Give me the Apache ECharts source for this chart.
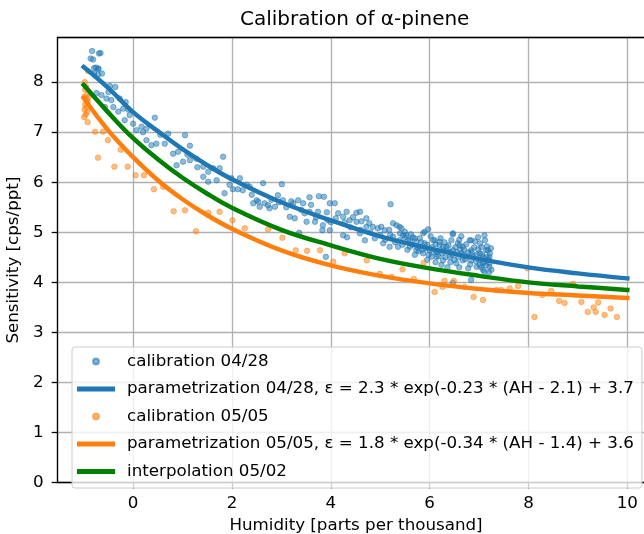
<!DOCTYPE html>
<html>
<head>
<meta charset="utf-8">
<title>Calibration of α-pinene</title>
<script src="https://cdn.jsdelivr.net/npm/echarts@6.0.0/dist/echarts.min.js"></script>
<style>
    html, body { margin: 0; padding: 0; background: #fff; }
    #main { width: 644px; height: 534px; }
</style>
</head>
<body>
<div id="main"></div>
<script>
// calibration points 04/28 [humidity, sensitivity]
var calib0428 = [
    [-0.83, 8.62], [-0.66, 8.58], [-0.69, 8.57], [-0.86, 8.47], [-0.81, 8.45], [-0.75, 8.29], [-0.79, 8.28],
    [-0.70, 8.27], [-0.71, 8.26], [-0.79, 8.17], [-0.71, 8.15], [-0.63, 8.17], [-0.47, 7.92], [-0.36, 7.90],
    [-0.74, 7.78], [-0.64, 7.74], [-0.54, 7.67], [-0.44, 7.64], [-0.27, 7.67], [-0.15, 7.60], [-0.57, 7.50],
    [-0.40, 7.50], [-0.30, 7.41], [-0.20, 7.47], [-0.07, 7.34], [-0.17, 7.24], [0.00, 7.17], [0.07, 7.04],
    [0.17, 7.11], [0.27, 7.07], [0.44, 7.29], [0.27, 6.84], [0.37, 6.74], [0.47, 6.77], [0.64, 6.77],
    [0.71, 6.97], [1.05, 6.94], [1.15, 6.73], [0.81, 6.57], [0.91, 6.61], [0.88, 6.34], [1.01, 6.41],
    [1.15, 6.44], [1.28, 6.47], [1.42, 6.31], [1.52, 6.21], [1.62, 6.28], [1.75, 6.28], [1.82, 6.51],
    [1.42, 6.11], [1.52, 6.01], [1.69, 6.04], [1.85, 5.78], [1.99, 6.08], [2.02, 5.86], [2.16, 6.08],
    [2.12, 5.86], [2.22, 5.84], [2.36, 5.91], [2.43, 5.58], [2.53, 5.61], [2.56, 5.51], [2.63, 5.98],
    [2.66, 5.58], [2.73, 5.54], [3.01, 5.96], [2.93, 5.74], [3.03, 5.64], [2.50, 5.64], [2.76, 5.48],
    [2.87, 5.51], [3.24, 5.58], [3.34, 5.64], [3.44, 5.58], [3.57, 5.70], [3.76, 5.72], [3.86, 5.71],
    [3.98, 5.58], [4.08, 5.58], [3.17, 5.31], [3.27, 5.28], [3.47, 5.38], [3.57, 5.41], [3.74, 5.41],
    [3.51, 5.21], [3.68, 5.21], [3.84, 5.14], [3.94, 5.24], [3.83, 5.04], [3.98, 5.04], [4.15, 5.38],
    [4.25, 5.31], [4.32, 5.41], [4.52, 5.39], [4.59, 5.41], [4.38, 5.24], [4.52, 5.21], [4.72, 5.28],
    [4.85, 5.11], [4.72, 5.11], [5.02, 5.11], [5.09, 5.04], [4.25, 4.94], [4.33, 4.90], [4.59, 4.98],
    [4.69, 4.84], [4.89, 4.88], [5.06, 4.78], [5.21, 5.56], [5.26, 5.18], [5.33, 5.14], [5.43, 5.08],
    [5.50, 5.01], [5.53, 4.94], [5.26, 4.91], [5.39, 4.84], [5.19, 4.71], [5.36, 4.71], [5.56, 4.84],
    [5.66, 4.90], [5.73, 4.81], [5.80, 4.88], [5.87, 4.98], [5.97, 5.06], [5.90, 4.78], [5.60, 4.71],
    [5.73, 4.64], [5.87, 4.58], [6.00, 4.64], [6.10, 4.84], [6.20, 4.74], [6.34, 4.71], [6.47, 4.98],
    [6.47, 4.64], [6.57, 4.78], [6.67, 4.71], [6.81, 4.84], [6.84, 4.64], [6.98, 4.90], [7.11, 4.94],
    [7.01, 4.58], [7.15, 4.64], [7.21, 4.51], [7.08, 4.38], [6.95, 4.31], [6.67, 4.44], [6.54, 4.38],
    [6.41, 4.51], [6.27, 4.44], [6.14, 4.51], [6.04, 4.51], [6.24, 4.35], [6.78, 4.28], [7.08, 4.25],
    [7.21, 4.31], [6.84, 4.05], [3.90, 4.51], [3.36, 4.99], [5.39, 5.11], [5.46, 4.94], [5.60, 4.84],
    [5.90, 5.01], [6.07, 4.84], [6.20, 4.81], [6.47, 4.96], [6.61, 4.74], [6.84, 4.84], [7.18, 4.64],
    [7.08, 4.51], [7.21, 4.38], [7.01, 4.35], [6.84, 4.44], [6.67, 4.54], [6.41, 4.61], [6.27, 4.71],
    [6.14, 4.61], [6.47, 3.99], [7.11, 4.21], [7.25, 4.25], [5.00, 4.95], [5.10, 4.85], [5.20, 4.95],
    [5.30, 4.80], [5.45, 4.75], [5.55, 4.65], [5.65, 4.75], [5.75, 4.70], [5.85, 4.65], [5.95, 4.75],
    [6.05, 4.70], [6.15, 4.62], [6.25, 4.58], [6.35, 4.62], [6.45, 4.55], [6.55, 4.60], [6.65, 4.58],
    [6.75, 4.52], [6.85, 4.60], [6.95, 4.55], [7.05, 4.70], [7.15, 4.50], [6.30, 4.80], [6.60, 4.85],
    [6.90, 4.70], [7.10, 4.40], [6.50, 4.45], [6.70, 4.65], [7.00, 4.45], [5.50, 4.90], [4.80, 5.00],
    [4.60, 5.05], [4.40, 5.10], [4.00, 5.20], [3.70, 5.30], [3.40, 5.45], [3.10, 5.50], [2.80, 5.65],
    [5.62, 4.96], [5.70, 4.55], [5.78, 4.62], [5.83, 4.80], [5.92, 4.68], [5.98, 4.55], [6.02, 4.92],
    [6.08, 4.60], [6.12, 4.76], [6.18, 4.52], [6.22, 4.88], [6.28, 4.64], [6.32, 4.50], [6.38, 4.74],
    [6.42, 4.40], [6.44, 4.84], [6.52, 4.70], [6.58, 4.50], [6.62, 4.66], [6.64, 4.92], [6.72, 4.46],
    [6.74, 4.76], [6.78, 4.60], [6.82, 4.36], [6.88, 4.52], [6.92, 4.82], [6.94, 4.42], [6.98, 4.66],
    [7.02, 4.78], [7.04, 4.30], [7.06, 4.56], [7.12, 4.84], [7.14, 4.34], [7.16, 4.72], [7.19, 4.46],
    [7.22, 4.58], [7.24, 4.68], [7.20, 4.20], [6.60, 4.30], [6.36, 4.30], [6.12, 4.40], [5.95, 4.45],
    [5.70, 4.88], [5.40, 4.98], [5.18, 5.05], [4.95, 5.08], [4.78, 5.18], [4.62, 5.22], [4.45, 5.30],
    [4.28, 5.20], [4.10, 5.28], [3.92, 5.40], [3.60, 5.55], [3.20, 5.62], [2.95, 5.60], [2.40, 5.75],
    [2.30, 5.95], [1.95, 5.95], [1.30, 6.30], [1.10, 6.55], [0.55, 6.95], [0.20, 7.00], [-0.10, 7.45],
    [-0.50, 7.80]
];

// calibration points 05/05
var calib0505 = [
    [-0.91, 8.22], [-0.98, 8.00], [-0.95, 7.90], [-0.97, 7.85], [-0.93, 7.75], [-0.99, 7.70], [-0.95, 7.65],
    [-0.92, 7.60], [-0.97, 7.55], [-0.94, 7.50], [-0.98, 7.45], [-0.93, 7.40], [-0.96, 7.35], [-0.99, 7.30],
    [-0.92, 7.20], [-0.90, 7.70], [-0.77, 7.01], [-0.61, 7.01], [-0.51, 6.84], [-0.71, 6.49], [-0.25, 6.65],
    [-0.38, 6.31], [-0.11, 6.31], [0.05, 6.14], [0.22, 6.14], [0.42, 5.86], [0.61, 5.91], [0.82, 5.42],
    [1.05, 5.44], [1.27, 5.02], [1.52, 5.39], [1.75, 5.41], [2.01, 5.24], [2.26, 5.08], [2.73, 5.06],
    [3.02, 4.89], [3.29, 4.64], [3.52, 4.63], [3.78, 4.64], [4.05, 4.41], [4.28, 4.58], [4.73, 4.44],
    [4.99, 4.17], [5.23, 4.11], [5.45, 4.26], [5.68, 4.07], [5.88, 4.39], [6.10, 3.81], [6.26, 3.91],
    [6.49, 4.03], [6.30, 4.03], [6.71, 3.91], [6.89, 3.71], [7.08, 3.65], [7.35, 3.85], [7.45, 3.85],
    [7.62, 3.88], [7.79, 3.93], [7.98, 4.28], [8.12, 3.31], [8.28, 3.75], [8.46, 3.83], [8.62, 3.63],
    [8.73, 3.59], [8.90, 3.97], [9.07, 3.61], [9.20, 3.41], [9.32, 3.50], [9.36, 3.41], [9.41, 3.60],
    [9.54, 3.35], [9.66, 3.48], [9.79, 3.31]
];

// fitted curves at these humidities
var curveX = [-1, -0.5, 0, 0.5, 1, 1.5, 2, 3, 4, 5, 6, 7, 8, 9, 10];
var fit0428 = [8.30, 7.88, 7.40, 7.02, 6.66, 6.34, 6.06, 5.60, 5.24, 4.92, 4.68, 4.47, 4.30, 4.18, 4.08];
var fit0505 = [7.68, 7.03, 6.50, 6.04, 5.66, 5.34, 5.07, 4.64, 4.34, 4.13, 3.98, 3.87, 3.79, 3.74, 3.69];
var interp0502 = [7.94, 7.39, 6.88, 6.46, 6.09, 5.77, 5.49, 5.05, 4.74, 4.47, 4.28, 4.13, 4.00, 3.92, 3.85];

var names = [
    'calibration 04/28',
    'parametrization 04/28, ε = 2.3 * exp(-0.23 * (AH - 2.1) + 3.7',
    'calibration 05/05',
    'parametrization 05/05, ε = 1.8 * exp(-0.34 * (AH - 1.4) + 3.6',
    'interpolation 05/02'
];

var BLUE = '#1f77b4', ORANGE = '#ff7f0e', GREEN = '#008000';
var FONT = 'DejaVu Sans';

function pairs(xs, ys) {
    var out = [];
    for (var i = 0; i < xs.length; i++) {
        out.push([xs[i], ys[i]]);
    }
    return out;
}

// legend handles: invisible corner points keep the box 45x14
var dotIcon = 'path://M0,0M45,14M16,7A3,3,0,1,1,22,7A3,3,0,1,1,16,7Z';
var lineIcon = 'path://M0,0M45,14M0,4.6L38,4.6L38,9.4L0,9.4Z';

function scatterSeries(name, data, color) {
    return {
        name: name,
        type: 'scatter',
        data: data,
        symbolSize: 5.5,
        itemStyle: { color: color, opacity: 0.5, borderColor: color, borderWidth: 1 }
    };
}

function curveSeries(name, ys, color) {
    return {
        name: name,
        type: 'line',
        data: pairs(curveX, ys),
        smooth: 0.4,
        showSymbol: false,
        symbol: 'none',
        itemStyle: { color: color },
        lineStyle: { color: color, width: 4.5, cap: 'square' }
    };
}

var tickStyle = { show: true, length: 5.8, lineStyle: { color: '#000', width: 1.3 } };
var gridLine = { show: true, lineStyle: { color: '#b0b0b0', width: 1.3 } };

var myChart = echarts.init(document.getElementById('main'), null, { renderer: 'canvas' });
myChart.setOption({
    animation: false,
    textStyle: { fontFamily: FONT },
    title: {
        text: 'Calibration of α-pinene',
        left: 240,
        top: 10,
        padding: 0,
        textStyle: { fontFamily: FONT, fontSize: 20, fontWeight: 'normal', color: '#000' }
    },
    grid: {
        left: 57.5, top: 37.5, right: -10.5, bottom: 51.3,
        containLabel: false,
        outerBoundsMode: 'none'
    },
    legend: {
        orient: 'vertical',
        left: 72,
        top: 347,
        padding: [6, 8, 8, 4],
        itemWidth: 45,
        itemHeight: 14,
        itemGap: 10.5,
        backgroundColor: 'rgba(255,255,255,0.8)',
        borderColor: '#cccccc',
        borderWidth: 1,
        borderRadius: 3,
        selectedMode: false,
        textStyle: { fontFamily: FONT, fontSize: 16.7, color: '#000' },
        data: [
            { name: names[0], icon: dotIcon, itemStyle: { color: BLUE, opacity: 0.55 } },
            { name: names[1], icon: lineIcon, itemStyle: { color: BLUE } },
            { name: names[2], icon: dotIcon, itemStyle: { color: ORANGE, opacity: 0.55 } },
            { name: names[3], icon: lineIcon, itemStyle: { color: ORANGE } },
            { name: names[4], icon: lineIcon, itemStyle: { color: GREEN } }
        ]
    },
    xAxis: [{
        type: 'value',
        min: -1.53,
        max: 10.55,
        splitNumber: 6,
        name: 'Humidity [parts per thousand]',
        nameLocation: 'middle',
        nameGap: 34,
        nameTextStyle: { fontFamily: FONT, fontSize: 16.7, color: '#000' },
        axisLine: { show: true, onZero: false, lineStyle: { color: '#000', width: 1.3 } },
        axisTick: tickStyle,
        axisLabel: { margin: 12, showMinLabel: false, showMaxLabel: false,
            fontFamily: FONT, fontSize: 16.7, color: '#000' },
        splitLine: gridLine
    }, {
        type: 'value',
        position: 'top',
        min: -1.53,
        max: 10.55,
        axisLine: { show: true, onZero: false, lineStyle: { color: '#000', width: 1.3 } },
        axisTick: { show: false },
        axisLabel: { show: false },
        splitLine: { show: false }
    }],
    yAxis: [{
        type: 'value',
        min: 0,
        max: 8.89,
        interval: 1,
        name: 'Sensitivity [cps/ppt]',
        nameLocation: 'middle',
        nameGap: 30,
        nameTextStyle: { fontFamily: FONT, fontSize: 16.7, color: '#000' },
        axisLine: { show: true, onZero: false, lineStyle: { color: '#000', width: 1.3 } },
        axisTick: tickStyle,
        axisLabel: { margin: 14, showMaxLabel: false,
            fontFamily: FONT, fontSize: 16.7, color: '#000' },
        splitLine: gridLine
    }],
    series: [
        scatterSeries(names[0], calib0428, BLUE),
        curveSeries(names[1], fit0428, BLUE),
        scatterSeries(names[2], calib0505, ORANGE),
        curveSeries(names[3], fit0505, ORANGE),
        curveSeries(names[4], interp0502, GREEN)
    ]
});
</script>
</body>
</html>
